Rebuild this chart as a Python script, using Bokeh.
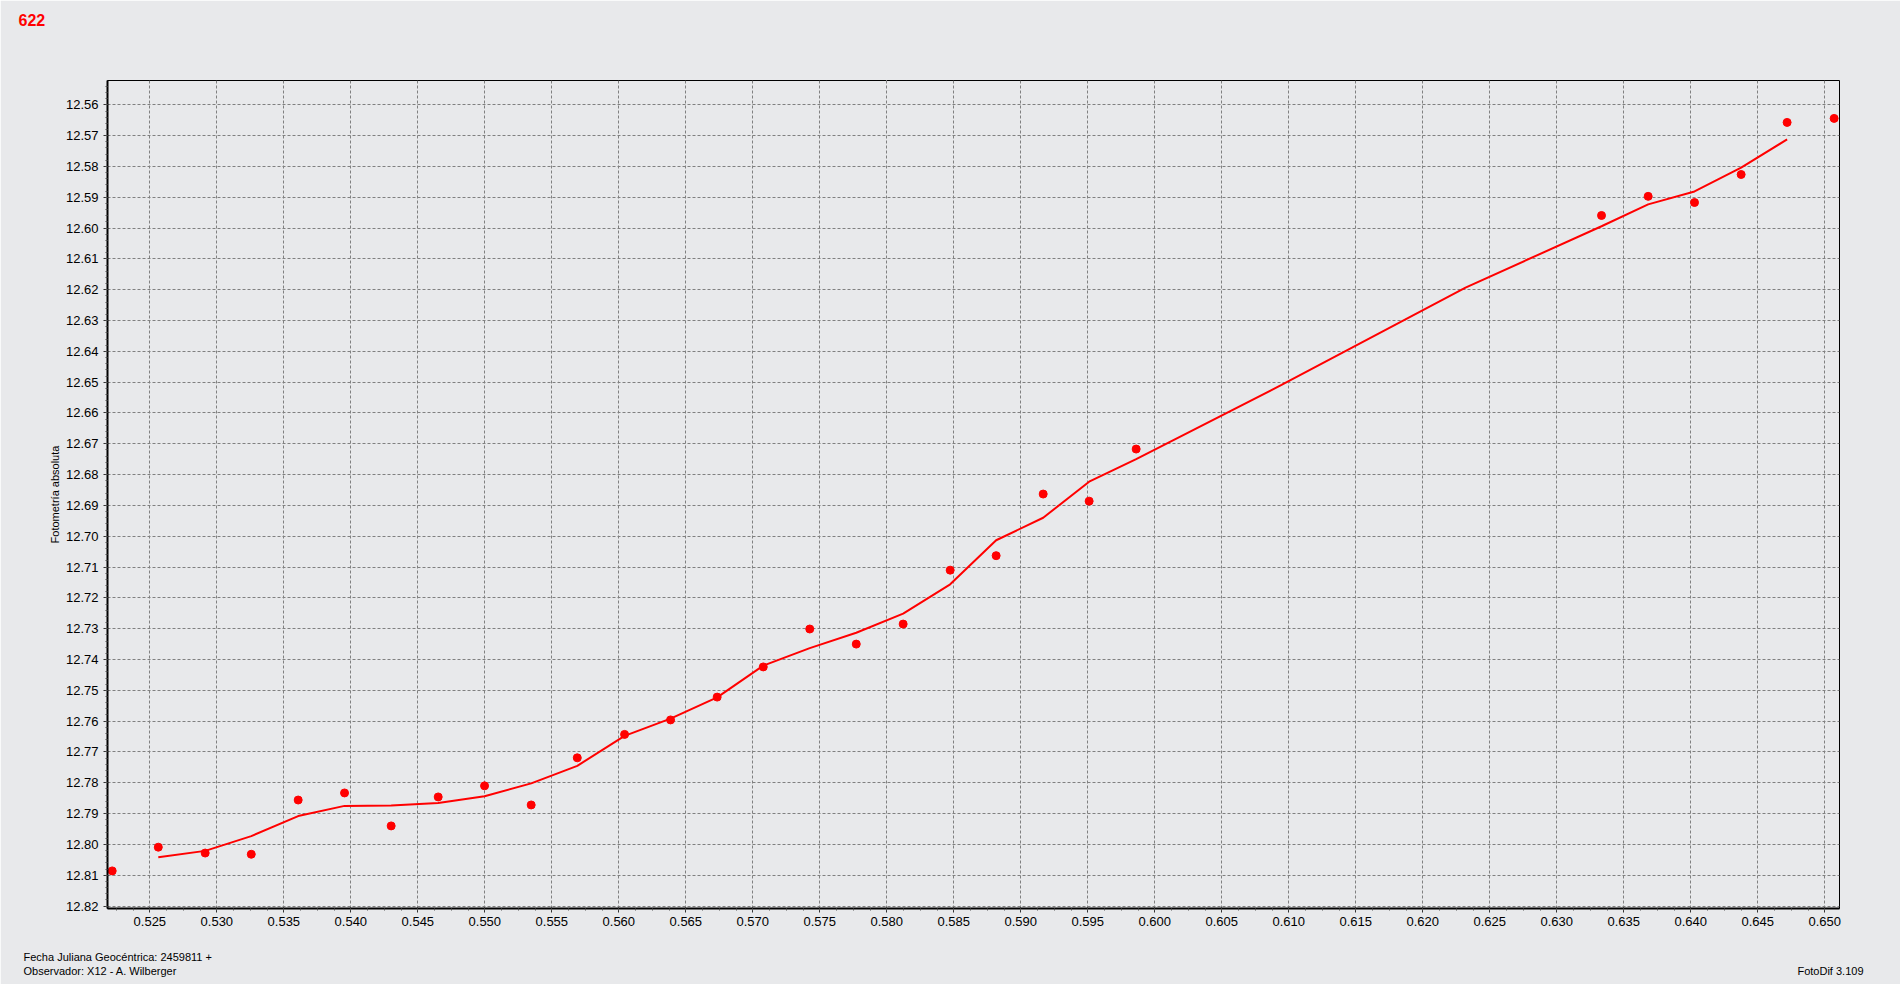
from bokeh.plotting import figure
from bokeh.models import Range1d, FixedTicker, NumeralTickFormatter, Title, LinearAxis
from bokeh.embed import file_html
from bokeh.resources import INLINE

# ---------------- texts ----------------
chart_id = "622"
date_note = "Fecha Juliana Geocéntrica: 2459811 +"
observer_note = "Observador: X12 - A. Wilberger"
software_note = "FotoDif 3.109"
y_title = "Fotometría absoluta"

# ---------------- data ----------------
obs_jd = [0.52219, 0.52563, 0.52913, 0.53257, 0.53607, 0.53953, 0.54301, 0.54652,
          0.54998, 0.55346, 0.55690, 0.56043, 0.56386, 0.56734, 0.57078, 0.57425,
          0.57772, 0.58122, 0.58473, 0.58816, 0.59167, 0.59510, 0.59861,
          0.63334, 0.63682, 0.64028, 0.64376, 0.64719, 0.65070]
obs_mag = [12.8086, 12.8009, 12.8028, 12.8032, 12.7856, 12.7833, 12.7940, 12.7846,
           12.7810, 12.7872, 12.7719, 12.7643, 12.7596, 12.7522, 12.7424, 12.7301,
           12.7350, 12.7285, 12.7110, 12.7063, 12.6863, 12.6886, 12.6717,
           12.5959, 12.5897, 12.5917, 12.5826, 12.5657, 12.5644]

trend_jd = [0.52563, 0.52913, 0.53257, 0.53607, 0.53953, 0.54301, 0.54652, 0.54998,
            0.55346, 0.55690, 0.56043, 0.56386, 0.56734, 0.57078, 0.57425, 0.57772,
            0.58122, 0.58473, 0.58816, 0.59167, 0.59510, 0.59861, 0.60946, 0.62319,
            0.63334, 0.63682, 0.64028, 0.64376, 0.64719]
trend_mag = [12.8042, 12.8021, 12.7973, 12.7908, 12.7875, 12.7874, 12.7866, 12.7844,
             12.7802, 12.7745, 12.7648, 12.7592, 12.7523, 12.7420, 12.7363, 12.7313,
             12.7251, 12.7156, 12.7013, 12.6940, 12.6823, 12.6750, 12.6509, 12.6193,
             12.5994, 12.5923, 12.5881, 12.5804, 12.5712]

x_ticks = [0.525, 0.530, 0.535, 0.540, 0.545, 0.550, 0.555, 0.560, 0.565, 0.570,
           0.575, 0.580, 0.585, 0.590, 0.595, 0.600, 0.605, 0.610, 0.615, 0.620,
           0.625, 0.630, 0.635, 0.640, 0.645, 0.650]
y_ticks = [12.56, 12.57, 12.58, 12.59, 12.60, 12.61, 12.62, 12.63, 12.64, 12.65,
           12.66, 12.67, 12.68, 12.69, 12.70, 12.71, 12.72, 12.73, 12.74, 12.75,
           12.76, 12.77, 12.78, 12.79, 12.80, 12.81, 12.82]

x_minor = [round(0.520 + i * 0.00125, 5) for i in range(0, 106)]
y_minor = [round(12.55 + i * 0.002, 3) for i in range(0, 140)]

BG = "#E8E9EB"
FONT = "Liberation Sans"

p = figure(width=1900, height=984, output_backend="svg", toolbar_location=None,
           title=None,
           x_range=Range1d(0.52184, 0.65110), y_range=Range1d(12.8208, 12.5521),
           min_border_left=107, min_border_right=61, min_border_top=80, min_border_bottom=76,
           background_fill_color=BG, border_fill_color=BG)
p.outline_line_color = "black"
p.outline_line_width = 1

p.xaxis.ticker = FixedTicker(ticks=x_ticks, minor_ticks=x_minor)
p.yaxis.ticker = FixedTicker(ticks=y_ticks, minor_ticks=y_minor)
p.xaxis.formatter = NumeralTickFormatter(format="0.000")
p.yaxis.formatter = NumeralTickFormatter(format="0.00")

for ax in (p.xaxis[0], p.yaxis[0]):
    ax.axis_line_color = "black"
    ax.axis_line_width = 2
    ax.major_tick_in = 0
    ax.major_tick_out = 4
    ax.minor_tick_in = 0
    ax.minor_tick_out = 2
    ax.major_tick_line_color = "#333333"
    ax.minor_tick_line_color = "#555555"
    ax.major_label_text_font = FONT
    ax.major_label_text_font_size = "13px"
    ax.major_label_text_color = "black"
p.xaxis.major_label_standoff = 4
p.yaxis.major_label_standoff = 5

p.yaxis.axis_label = y_title
p.yaxis.axis_label_text_font = FONT
p.yaxis.axis_label_text_font_size = "11px"
p.yaxis.axis_label_text_font_style = "normal"
p.yaxis.axis_label_text_color = "black"
p.yaxis.axis_label_standoff = 2

for g in (p.xgrid[0], p.ygrid[0]):
    g.grid_line_color = "#808080"
    g.grid_line_width = 1
    g.grid_line_dash = "3 2"

p.line(trend_jd, trend_mag, line_color="#FF0000", line_width=2)
p.scatter(obs_jd, obs_mag, size=8, fill_color="#FF0000", line_color="#FF0000")


def note(text, size, offset, standoff, align="left", bold=False, color="black"):
    return Title(text=text, align=align, offset=offset, standoff=standoff,
                 vertical_align="top", text_font=FONT, text_font_size=size,
                 text_font_style="bold" if bold else "normal", text_color=color)


def gap_axis(extent, at):
    # an axis with one background-coloured tick: it only reserves vertical space
    return LinearAxis(ticker=FixedTicker(ticks=[at], minor_ticks=[]),
                      axis_line_color=None, major_tick_line_color=BG,
                      major_tick_in=0, major_tick_out=extent,
                      minor_tick_line_color=None, minor_tick_in=0, minor_tick_out=0,
                      major_label_standoff=0, major_label_text_font_size="1px",
                      major_label_overrides={at: ""})


# above: a gap next to the frame, then the chart id
p.add_layout(gap_axis(53, 0.58), "above")
p.add_layout(note(chart_id, "16px", -89, 0, bold=True, color="#FF0000"), "above")

# below: x axis, gap, date note, observer, software (last two share one line)
p.add_layout(gap_axis(15, 0.59), "below")
p.add_layout(note(date_note, "11px", -84, 14.5), "below")
p.add_layout(note(observer_note, "11px", -84, -14.5), "below")
p.add_layout(note(software_note, "11px", -24, -14.5, align="right"), "below")

open("out.html", "w").write(file_html(p, INLINE))
